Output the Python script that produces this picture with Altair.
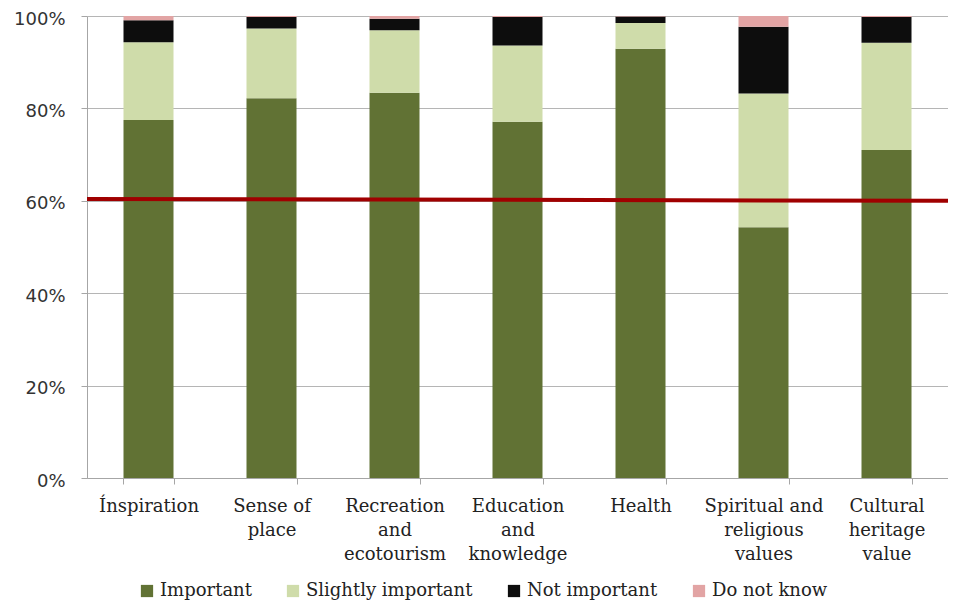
import altair as alt
import pandas as pd

categories = ["Ínspiration", "Sense of\nplace", "Recreation\nand\necotourism",
              "Education\nand\nknowledge", "Health", "Spiritual and\nreligious\nvalues",
              "Cultural\nheritage\nvalue"]
series = ["Important", "Slightly important", "Not important", "Do not know"]
colors = ["#617234", "#cfdcaa", "#0d0d0d", "#e2a4a4"]

important = [77.5, 82.2, 83.4, 77.1, 92.9, 54.3, 71.0]
slightly = [16.8, 15.1, 13.5, 16.5, 5.6, 28.9, 23.2]
not_important = [4.8, 2.5, 2.5, 6.2, 1.4, 14.5, 5.6]
do_not_know = [0.9, 0.2, 0.6, 0.2, 0.1, 2.3, 0.2]

threshold_left = 60.4
threshold_right = 60.0

rows = []
for vals, s_idx in zip([important, slightly, not_important, do_not_know], range(4)):
    for c, v in zip(categories, vals):
        rows.append({"category": c, "series": series[s_idx], "order": s_idx, "value": v})
df = pd.DataFrame(rows)

W, H = 861, 462

bars = alt.Chart(df).mark_bar(width=50).encode(
    x=alt.X("category:N", sort=categories,
            scale=alt.Scale(paddingInner=0.59, paddingOuter=0.295),
            axis=alt.Axis(title=None, labelAngle=0, tickBand="extent", tickSize=6,
                          labelExpr="split(datum.label, '\\n')",
                          labelFont="DejaVu Serif", labelFontSize=18,
                          labelLineHeight=24, labelPadding=13, labelColor="#222222",
                          domainColor="#a6a6a6", tickColor="#a6a6a6", grid=False)),
    y=alt.Y("value:Q", stack="zero",
            scale=alt.Scale(domain=[0, 100], nice=False),
            axis=alt.Axis(title=None, values=[0, 20, 40, 60, 80, 100],
                          labelExpr="datum.value + '%'",
                          labelFont="DejaVu Sans", labelFontSize=18,
                          labelColor="#333333", labelPadding=16, tickSize=6,
                          labelOffset=3,
                          domainColor="#a6a6a6", tickColor="#a6a6a6",
                          gridColor="#b5b5b5", grid=True)),
    color=alt.Color("series:N", sort=series,
                    scale=alt.Scale(domain=series, range=colors),
                    legend=alt.Legend(title=None, orient="none", legendX=51, legendY=566,
                                      direction="horizontal", columns=4,
                                      symbolType="square", symbolSize=150,
                                      symbolStrokeWidth=0, labelLimit=0,
                                      labelFont="DejaVu Serif", labelFontSize=18,
                                      labelColor="#222222",
                                      labelOffset=4, columnPadding=32)),
    order=alt.Order("order:Q"),
)

line_df = pd.DataFrame({"y": [threshold_left], "y2": [threshold_right]})
rule = alt.Chart(line_df).mark_rule(color="#a00000", strokeWidth=4).encode(
    x=alt.value(0), x2=alt.value(W),
    y=alt.Y("y:Q"), y2="y2:Q",
)

chart = alt.layer(bars, rule).properties(
    width=W, height=H,
    autosize=alt.AutoSizeParams(type="none"),
    padding={"left": 79, "top": 8, "right": 0, "bottom": 128},
).configure_view(strokeWidth=0)

chart.save("out.html", embed_options={"renderer": "svg", "actions": False})
